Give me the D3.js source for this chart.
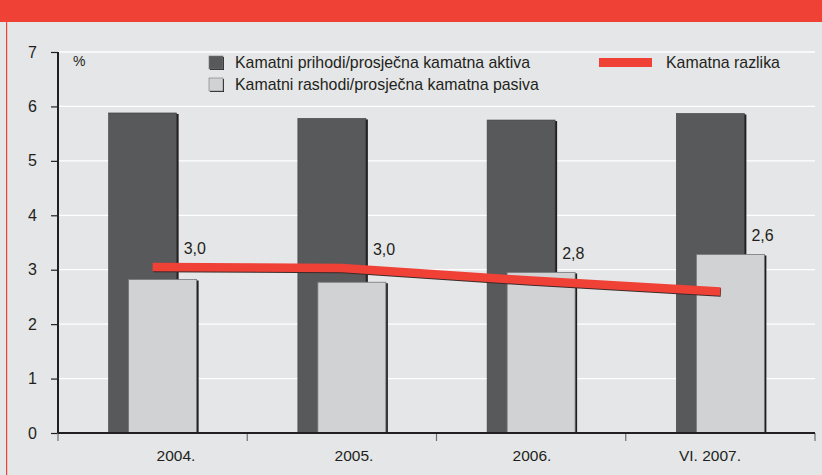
<!DOCTYPE html>
<html>
<head>
<meta charset="utf-8">
<script src="https://cdn.jsdelivr.net/npm/d3@7"></script>
<style>
  body { margin: 0; background: #e5e6e7; }
  svg { display: block; font-family: 'Liberation Sans', Arial, sans-serif; }
</style>
</head>
<body>
<div id="chart"></div>
<script>
// data
let categories = ['2004.', '2005.', '2006.', 'VI. 2007.']
let prihodi = [5.88, 5.78, 5.75, 5.87]
let rashodi = [2.82, 2.77, 2.95, 3.28]
let razlika = [3.05, 3.03, 2.80, 2.60]
let razlikaLabels = ['3,0', '3,0', '2,8', '2,6']
let yTicks = [0, 1, 2, 3, 4, 5, 6, 7]
let legendBars = ['Kamatni prihodi/prosječna kamatna aktiva', 'Kamatni rashodi/prosječna kamatna pasiva']
let legendLine = 'Kamatna razlika'

let width = 822
let height = 475
let margin = { top: 52, right: 7, bottom: 42, left: 58 }

let red = '#ef4136'
let dark = '#58595b'
let light = '#d1d2d4'
let ink = '#231f20'

let svg = d3.select('#chart').append('svg')
  .attr('width', width)
  .attr('height', height)

svg.append('rect')
  .attr('width', width).attr('height', height)
  .attr('fill', '#e5e6e7')

// red header band and left border
svg.append('rect')
  .attr('x', 0).attr('y', 0)
  .attr('width', width).attr('height', 22)
  .attr('fill', red)
svg.append('rect')
  .attr('x', 6).attr('y', 22)
  .attr('width', 1.2).attr('height', height - 22)
  .attr('fill', red)

let x = d3.scaleBand()
  .domain(categories)
  .range([margin.left, width - margin.right])

let y = d3.scaleLinear()
  .domain([0, 7])
  .range([height - margin.bottom, margin.top])

// labels under the axis sit on a slightly tighter spacing than the bands
let xLabel = d3.scalePoint()
  .domain(categories)
  .range([margin.left + 118, width - margin.right - 105])

// gridlines
svg.append('g')
  .selectAll('line')
  .data(yTicks.filter(function (d) { return d > 0 }))
  .enter().append('line')
  .attr('x1', margin.left)
  .attr('x2', width - margin.right)
  .attr('y1', function (d) { return y(d) })
  .attr('y2', function (d) { return y(d) })
  .attr('stroke', '#ffffff')
  .attr('stroke-width', 1.3)

let barW = 68
let gap = 20
let cx = function (d) { return x(d) + x.bandwidth() / 2 }

// dark bars
let gDark = svg.append('g')
gDark.selectAll('rect.shadow')
  .data(categories)
  .enter().append('rect')
  .attr('class', 'shadow')
  .attr('x', function (d) { return cx(d) - 44 + 2 })
  .attr('y', function (d, i) { return y(prihodi[i]) + 1 })
  .attr('width', barW)
  .attr('height', function (d, i) { return y(0) - y(prihodi[i]) - 1 })
  .attr('fill', ink)
gDark.selectAll('rect.bar')
  .data(categories)
  .enter().append('rect')
  .attr('class', 'bar')
  .attr('x', function (d) { return cx(d) - 44 })
  .attr('y', function (d, i) { return y(prihodi[i]) })
  .attr('width', barW)
  .attr('height', function (d, i) { return y(0) - y(prihodi[i]) })
  .attr('fill', dark)
  .attr('stroke', '#3d3d3f')
  .attr('stroke-width', 0.6)

// light bars
let gLight = svg.append('g')
gLight.selectAll('rect.shadow')
  .data(categories)
  .enter().append('rect')
  .attr('class', 'shadow')
  .attr('x', function (d) { return cx(d) - 44 + gap + 2 })
  .attr('y', function (d, i) { return y(rashodi[i]) + 1 })
  .attr('width', barW)
  .attr('height', function (d, i) { return y(0) - y(rashodi[i]) - 1 })
  .attr('fill', ink)
gLight.selectAll('rect.bar')
  .data(categories)
  .enter().append('rect')
  .attr('class', 'bar')
  .attr('x', function (d) { return cx(d) - 44 + gap })
  .attr('y', function (d, i) { return y(rashodi[i]) })
  .attr('width', barW)
  .attr('height', function (d, i) { return y(0) - y(rashodi[i]) })
  .attr('fill', light)
  .attr('stroke', '#77787b')
  .attr('stroke-width', 0.8)

// interest margin line with a thin dark edge underneath
let line = d3.line()
  .x(function (d, i) { return cx(categories[i]) })
  .y(function (d) { return y(d) })

svg.append('path')
  .datum(razlika)
  .attr('d', line)
  .attr('transform', 'translate(0.5,1)')
  .attr('fill', 'none')
  .attr('stroke', '#3a2a2a')
  .attr('stroke-width', 8.5)
svg.append('path')
  .datum(razlika)
  .attr('d', line)
  .attr('fill', 'none')
  .attr('stroke', red)
  .attr('stroke-width', 8.5)

// value labels
svg.append('g')
  .selectAll('text')
  .data(razlikaLabels)
  .enter().append('text')
  .attr('x', function (d, i) { return cx(categories[i]) + 31 })
  .attr('y', function (d, i) { return Math.min(y(rashodi[i]), y(razlika[i])) - 13 })
  .attr('font-size', 16)
  .attr('fill', ink)
  .text(function (d) { return d })

// y axis
let yAxis = d3.axisLeft(y)
  .tickValues(yTicks)
  .tickFormat(d3.format('d'))
  .tickSize(7)
  .tickPadding(14)
let gy = svg.append('g')
  .attr('transform', 'translate(' + margin.left + ',0)')
  .call(yAxis)
gy.select('.domain').remove()
gy.selectAll('.tick line').attr('stroke', ink).attr('stroke-width', 1.2)
gy.selectAll('.tick text')
  .attr('font-size', 16)
  .attr('font-family', "'Liberation Sans', Arial, sans-serif")
  .attr('fill', ink)
svg.append('line')
  .attr('x1', margin.left).attr('x2', margin.left)
  .attr('y1', y(7)).attr('y2', y(0))
  .attr('stroke', ink)
  .attr('stroke-width', 2)

// x axis: ticks on band edges, labels separate
let edges = categories.map(function (d) { return x(d) }).concat([x.range()[1]])
svg.append('g')
  .selectAll('line')
  .data(edges)
  .enter().append('line')
  .attr('x1', function (d) { return d })
  .attr('x2', function (d) { return d })
  .attr('y1', y(0))
  .attr('y2', y(0) + 8)
  .attr('stroke', '#6d6e70')
  .attr('stroke-width', 1.2)
svg.append('line')
  .attr('x1', margin.left).attr('x2', x.range()[1])
  .attr('y1', y(0)).attr('y2', y(0))
  .attr('stroke', ink)
  .attr('stroke-width', 2)
svg.append('g')
  .selectAll('text')
  .data(categories)
  .enter().append('text')
  .attr('x', function (d) { return xLabel(d) })
  .attr('y', y(0) + 28)
  .attr('text-anchor', 'middle')
  .attr('font-size', 15.5)
  .attr('fill', ink)
  .text(function (d) { return d })

// unit
svg.append('text')
  .attr('x', 73).attr('y', 66)
  .attr('font-size', 14)
  .attr('fill', ink)
  .text('%')

// legend
let legend = svg.append('g')
let legendFill = [dark, light]
legendBars.forEach(function (name, i) {
  let ly = 56 + i * 22
  legend.append('rect')
    .attr('x', 210).attr('y', ly + 1)
    .attr('width', 14).attr('height', 13)
    .attr('fill', ink)
  legend.append('rect')
    .attr('x', 209).attr('y', ly)
    .attr('width', 14).attr('height', 13)
    .attr('fill', legendFill[i])
    .attr('stroke', '#77787b')
    .attr('stroke-width', 0.6)
  legend.append('text')
    .attr('x', 235).attr('y', ly + 12)
    .attr('font-size', 15.9)
    .attr('fill', ink)
    .text(name)
})
legend.append('rect')
  .attr('x', 599).attr('y', 58)
  .attr('width', 53).attr('height', 9)
  .attr('fill', red)
legend.append('text')
  .attr('x', 666).attr('y', 68)
  .attr('font-size', 15.9)
  .attr('fill', ink)
  .text(legendLine)
</script>
</body>
</html>
